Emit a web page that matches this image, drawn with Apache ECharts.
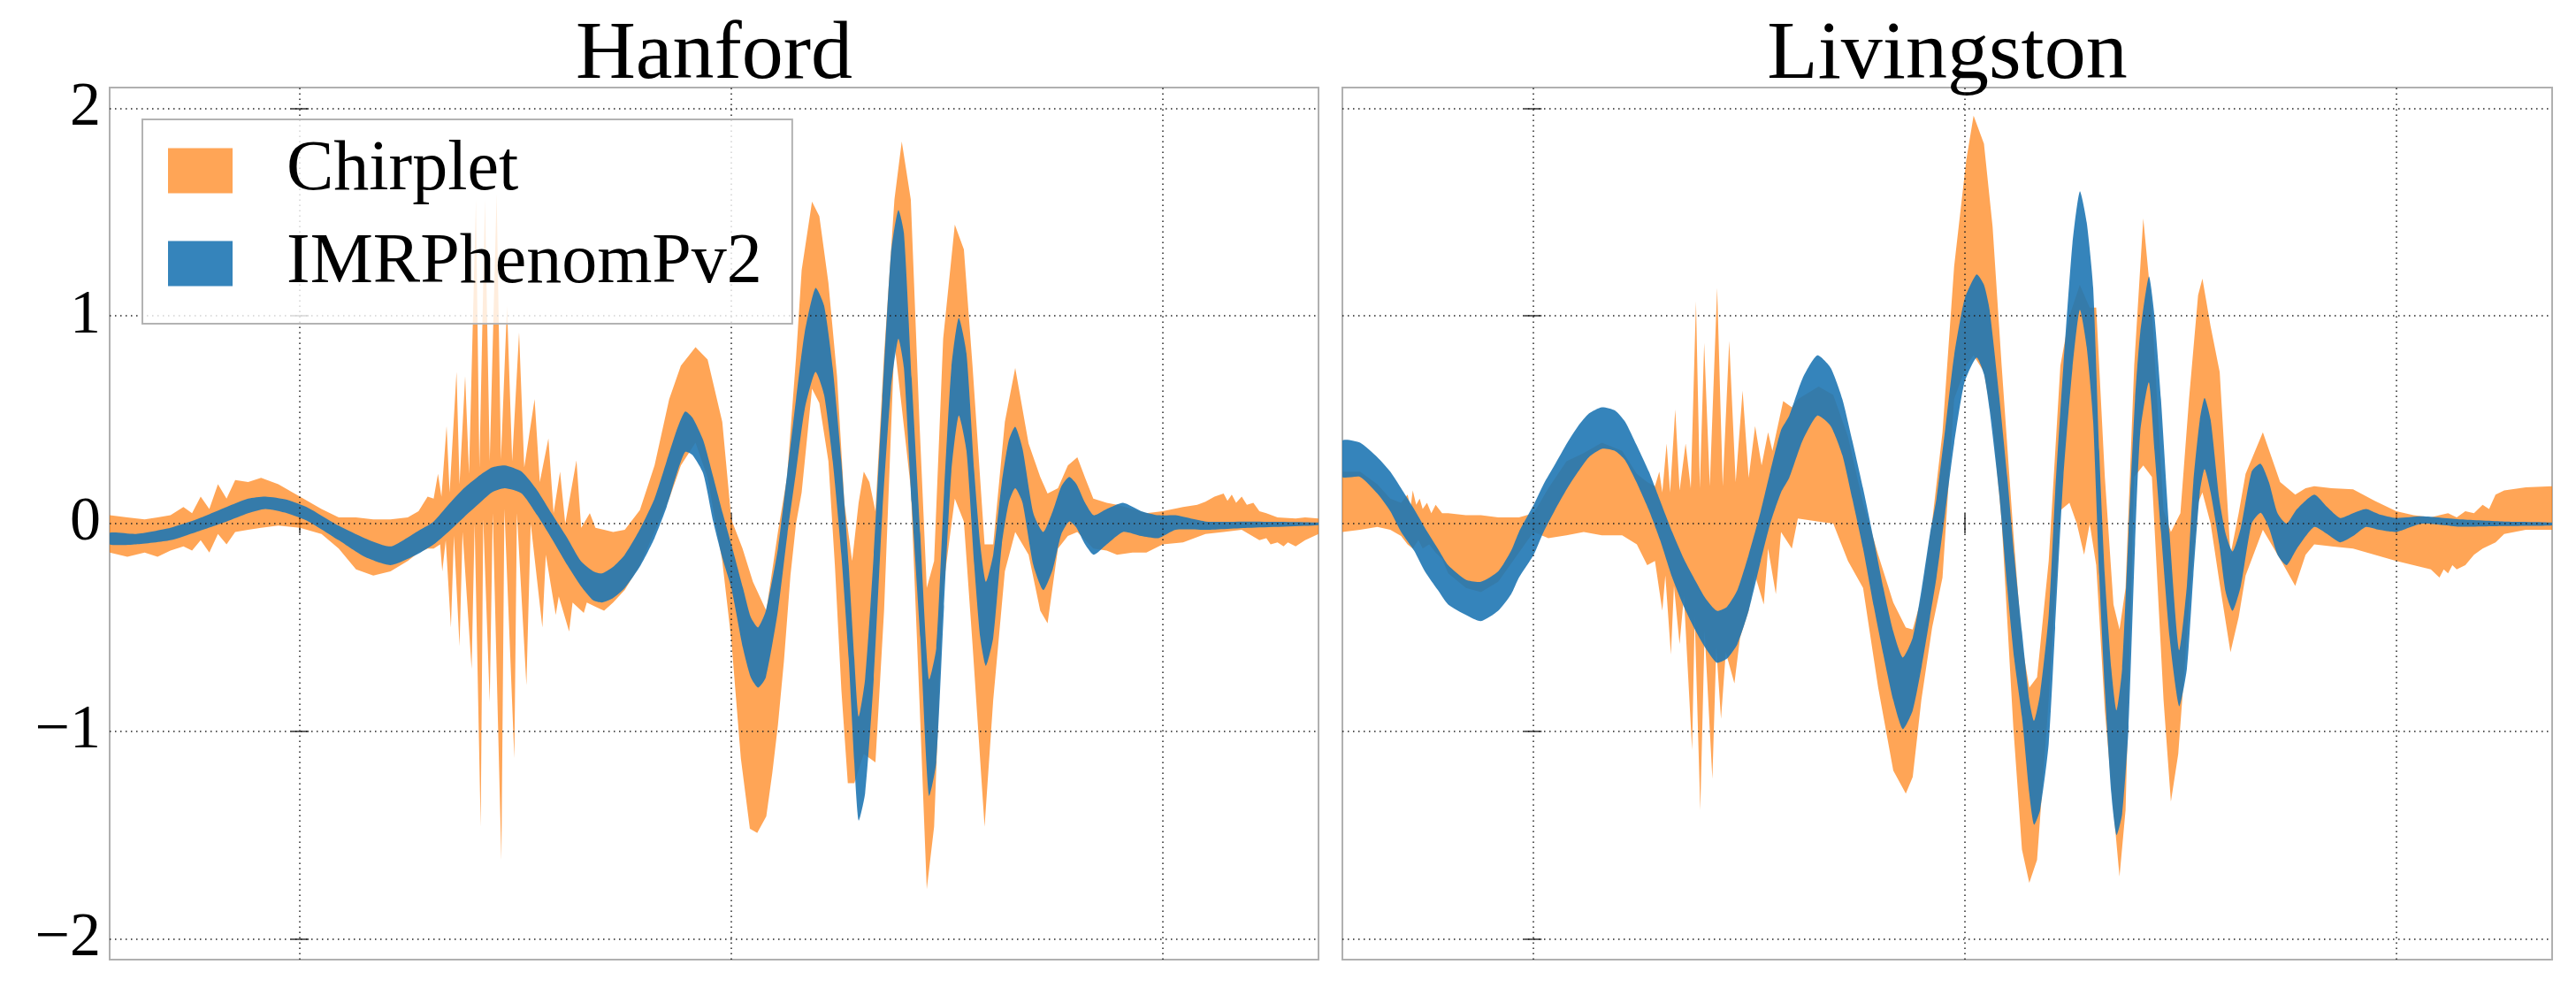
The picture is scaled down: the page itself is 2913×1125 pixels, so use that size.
<!DOCTYPE html>
<html>
<head>
<meta charset="utf-8">
<script src="https://cdn.jsdelivr.net/npm/echarts@6/dist/echarts.min.js"></script>
<style>
html, body { margin: 0; padding: 0; background: #fff; }
#chart { width: 2913px; height: 1125px; }
</style>
</head>
<body>
<div id="chart"></div>
<script>
// x is in grid units: the dotted verticals sit at 0, 1, 2
const xMin = -0.441, xMax = 2.361;
const yMin = -2.1, yMax = 2.1;
const xGridValues = [0, 1, 2];
const yTickValues = [-2, -1, 0, 1, 2];
const yTickLabels = ['−2', '−1', '0', '1', '2'];
const panelTitles = ['Hanford', 'Livingston'];
const seriesNames = ['Chirplet', 'IMRPhenomPv2'];

// Hanford, Chirplet band: upper and lower edges [x, y]
const hanChirpUpper = [
  [-0.441,0.04],[-0.40,0.03],[-0.36,0.02],[-0.33,0.03],[-0.30,0.04],[-0.27,0.08],[-0.25,0.05],[-0.23,0.13],
  [-0.21,0.07],[-0.19,0.19],[-0.17,0.12],[-0.15,0.21],[-0.12,0.20],[-0.09,0.22],[-0.05,0.19],[0.0,0.13],
  [0.05,0.07],[0.09,0.03],[0.13,0.03],[0.17,0.02],[0.21,0.02],[0.25,0.03],[0.275,0.06],[0.296,0.13],
  [0.31,0.12],[0.32,0.24],[0.328,0.13],[0.34,0.47],[0.347,0.15],[0.363,0.73],[0.37,0.19],[0.383,0.71],
  [0.392,0.24],[0.408,1.56],[0.416,0.27],[0.429,1.56],[0.44,0.30],[0.456,1.59],[0.466,0.31],[0.48,1.05],
  [0.492,0.30],[0.508,0.92],[0.52,0.27],[0.544,0.60],[0.556,0.20],[0.576,0.41],[0.588,0.05],[0.603,0.25],
  [0.615,0.0],[0.641,0.305],[0.652,-0.02],[0.672,0.05],[0.685,-0.02],[0.705,-0.03],[0.726,-0.04],[0.753,-0.03],
  [0.788,0.065],[0.822,0.28],[0.856,0.60],[0.883,0.76],[0.917,0.85],[0.945,0.79],[0.979,0.49],[1.0,0.02],
  [1.026,-0.12],[1.05,-0.28],[1.081,-0.42],[1.108,-0.04],[1.129,0.22],[1.15,0.80],[1.163,1.22],[1.187,1.55],
  [1.204,1.48],[1.225,1.16],[1.245,0.71],[1.262,0.10],[1.28,-0.18],[1.295,0.10],[1.307,0.25],[1.32,0.20],
  [1.334,0.06],[1.354,0.81],[1.378,1.56],[1.395,1.84],[1.416,1.56],[1.436,0.49],[1.453,-0.31],[1.47,-0.18],
  [1.491,0.89],[1.518,1.44],[1.539,1.32],[1.559,0.76],[1.587,-0.10],[1.607,-0.10],[1.634,0.49],[1.658,0.75],
  [1.689,0.385],[1.716,0.225],[1.733,0.145],[1.757,0.17],[1.78,0.28],[1.802,0.32],[1.82,0.22],[1.839,0.12],
  [1.87,0.10],[1.894,0.09],[1.93,0.07],[1.962,0.05],[2.0,0.06],[2.047,0.08],[2.08,0.09],[2.099,0.105],
  [2.12,0.13],[2.141,0.145],[2.15,0.11],[2.16,0.14],[2.17,0.10],[2.183,0.13],[2.195,0.09],[2.21,0.10],
  [2.224,0.06],[2.24,0.05],[2.266,0.03],[2.308,0.025],[2.33,0.03],[2.361,0.025]
];
const hanChirpLower = [
  [-0.441,-0.14],[-0.40,-0.16],[-0.36,-0.14],[-0.33,-0.16],[-0.30,-0.13],[-0.27,-0.11],[-0.25,-0.13],[-0.23,-0.08],
  [-0.21,-0.14],[-0.19,-0.05],[-0.17,-0.10],[-0.15,-0.04],[-0.12,-0.03],[-0.09,-0.02],[-0.05,-0.01],[0.0,-0.02],
  [0.05,-0.05],[0.09,-0.12],[0.13,-0.22],[0.17,-0.25],[0.21,-0.23],[0.25,-0.18],[0.275,-0.14],[0.296,-0.12],
  [0.31,-0.12],[0.325,-0.10],[0.33,-0.23],[0.338,-0.08],[0.35,-0.50],[0.357,-0.06],[0.37,-0.59],[0.377,-0.04],
  [0.398,-0.70],[0.405,0.0],[0.419,-1.46],[0.425,0.02],[0.44,-0.86],[0.447,0.05],[0.467,-1.62],[0.474,0.07],
  [0.497,-1.13],[0.503,0.05],[0.525,-0.78],[0.535,0.0],[0.562,-0.50],[0.57,-0.15],[0.593,-0.44],[0.60,-0.35],
  [0.624,-0.52],[0.632,-0.38],[0.658,-0.43],[0.665,-0.38],[0.685,-0.40],[0.705,-0.42],[0.726,-0.38],[0.753,-0.32],
  [0.788,-0.20],[0.822,-0.04],[0.856,0.12],[0.883,0.28],[0.917,0.39],[0.945,0.22],[0.979,-0.18],[1.0,-0.56],
  [1.022,-1.13],[1.043,-1.47],[1.06,-1.49],[1.081,-1.41],[1.095,-1.20],[1.108,-0.97],[1.122,-0.66],[1.137,-0.25],
  [1.15,0.0],[1.163,0.15],[1.187,0.65],[1.204,0.58],[1.225,0.30],[1.24,-0.20],[1.255,-0.80],[1.27,-1.25],
  [1.285,-1.25],[1.307,-1.11],[1.334,-1.15],[1.354,-0.42],[1.378,0.87],[1.395,0.56],[1.416,0.17],[1.436,-0.85],
  [1.453,-1.76],[1.47,-1.46],[1.491,-0.31],[1.518,0.12],[1.539,0.01],[1.559,-0.58],[1.587,-1.46],[1.607,-0.85],
  [1.634,-0.23],[1.658,-0.04],[1.689,-0.15],[1.716,-0.42],[1.733,-0.48],[1.757,-0.12],[1.78,-0.06],[1.802,-0.04],
  [1.839,-0.12],[1.87,-0.13],[1.894,-0.15],[1.93,-0.14],[1.962,-0.14],[2.0,-0.10],[2.047,-0.09],[2.099,-0.05],
  [2.141,-0.04],[2.183,-0.03],[2.224,-0.08],[2.24,-0.07],[2.25,-0.10],[2.266,-0.09],[2.28,-0.11],[2.29,-0.09],
  [2.308,-0.11],[2.33,-0.08],[2.361,-0.05]
];
// Hanford, IMRPhenomPv2 band: [x, lower, upper]
const hanImr = [
  [-0.441,-0.10,-0.045],[-0.38,-0.10,-0.05],[-0.30,-0.08,-0.02],[-0.24,-0.04,0.02],[-0.17,0.01,0.08],
  [-0.12,0.05,0.12],[-0.08,0.07,0.13],[-0.03,0.05,0.115],[0.02,0.01,0.075],[0.09,-0.08,-0.01],
  [0.15,-0.16,-0.07],[0.21,-0.20,-0.11],[0.27,-0.15,-0.04],[0.31,-0.10,0.01],[0.344,-0.04,0.09],
  [0.38,0.03,0.17],[0.412,0.09,0.225],[0.445,0.15,0.27],[0.475,0.17,0.28],[0.514,0.145,0.25],
  [0.55,0.04,0.16],[0.583,-0.07,0.05],[0.62,-0.20,-0.07],[0.651,-0.30,-0.18],[0.68,-0.37,-0.23],
  [0.70,-0.38,-0.24],[0.725,-0.36,-0.21],[0.753,-0.31,-0.15],[0.79,-0.20,-0.02],[0.822,-0.07,0.12],
  [0.85,0.08,0.30],[0.875,0.25,0.46],[0.893,0.345,0.54],[0.91,0.33,0.51],[0.935,0.24,0.40],
  [0.958,0.01,0.225],[0.98,-0.17,0.05],[1.0,-0.31,-0.10],[1.027,-0.60,-0.31],[1.045,-0.74,-0.45],
  [1.062,-0.79,-0.50],[1.08,-0.74,-0.42],[1.108,-0.42,-0.12],[1.13,-0.05,0.25],[1.15,0.25,0.60],
  [1.17,0.55,0.92],[1.195,0.73,1.135],[1.215,0.62,1.05],[1.235,0.30,0.75],[1.255,-0.15,0.30],
  [1.272,-0.65,-0.20],[1.285,-1.15,-0.65],[1.295,-1.43,-0.93],[1.31,-1.30,-0.75],[1.33,-0.75,-0.15],
  [1.35,0.05,0.60],[1.37,0.65,1.30],[1.387,0.89,1.51],[1.40,0.75,1.40],[1.418,0.10,0.70],
  [1.438,-0.55,-0.05],[1.458,-1.31,-0.75],[1.475,-1.15,-0.60],[1.493,-0.40,0.15],[1.51,0.25,0.75],
  [1.527,0.52,0.99],[1.545,0.35,0.82],[1.563,-0.20,0.25],[1.577,-0.55,-0.10],[1.59,-0.685,-0.28],
  [1.607,-0.55,-0.15],[1.627,-0.10,0.20],[1.643,0.10,0.40],[1.658,0.17,0.466],[1.675,0.10,0.36],
  [1.70,-0.20,0.05],[1.723,-0.32,-0.04],[1.745,-0.22,0.06],[1.765,-0.05,0.18],[1.783,0.01,0.225],
  [1.80,-0.02,0.19],[1.82,-0.10,0.10],[1.84,-0.15,0.04],[1.87,-0.10,0.07],[1.908,-0.04,0.10],
  [1.95,-0.06,0.06],[1.99,-0.07,0.04],[2.03,-0.03,0.04],[2.10,-0.03,0.01],[2.20,-0.02,0.01],
  [2.361,-0.007,0.005]
];

// Livingston, Chirplet band
const livChirpUpper = [
  [-0.441,0.25],[-0.40,0.25],[-0.36,0.19],[-0.33,0.12],[-0.305,0.10],[-0.29,0.14],[-0.283,0.08],[-0.278,0.16],
  [-0.27,0.09],[-0.262,0.12],[-0.255,0.07],[-0.245,0.10],[-0.235,0.05],[-0.225,0.09],[-0.21,0.05],[-0.196,0.05],
  [-0.155,0.04],[-0.12,0.04],[-0.08,0.03],[-0.032,0.03],[0.002,0.05],[0.036,0.17],[0.078,0.30],[0.118,0.34],
  [0.16,0.39],[0.207,0.35],[0.241,0.24],[0.265,0.20],[0.283,0.18],[0.293,0.25],[0.30,0.15],[0.31,0.385],
  [0.318,0.15],[0.33,0.55],[0.34,0.16],[0.354,0.385],[0.366,0.17],[0.378,1.07],[0.387,0.17],[0.397,0.87],
  [0.41,0.18],[0.427,1.135],[0.44,0.18],[0.455,0.88],[0.47,0.20],[0.486,0.64],[0.50,0.22],[0.515,0.47],
  [0.53,0.28],[0.545,0.44],[0.555,0.35],[0.58,0.59],[0.60,0.56],[0.614,0.60],[0.662,0.66],[0.696,0.62],
  [0.73,0.42],[0.765,0.10],[0.80,-0.15],[0.835,-0.38],[0.864,-0.50],[0.88,-0.51],[0.90,-0.36],[0.925,0.01],
  [0.949,0.44],[0.976,1.24],[1.004,1.75],[1.021,1.965],[1.045,1.83],[1.065,1.43],[1.086,0.76],[1.113,-0.04],
  [1.133,-0.58],[1.15,-0.79],[1.168,-0.74],[1.195,-0.18],[1.222,0.76],[1.243,1.0],[1.267,1.15],[1.29,1.04],
  [1.305,1.04],[1.325,0.225],[1.345,-0.39],[1.359,-0.51],[1.373,-0.31],[1.393,0.76],[1.414,1.47],[1.434,1.03],
  [1.461,0.064],[1.478,-0.04],[1.50,0.05],[1.52,0.60],[1.541,1.10],[1.551,1.18],[1.57,0.95],[1.591,0.73],
  [1.616,-0.15],[1.635,0.05],[1.651,0.24],[1.691,0.44],[1.731,0.20],[1.766,0.14],[1.79,0.17],[1.81,0.18],
  [1.85,0.17],[1.9,0.165],[1.95,0.11],[2.0,0.06],[2.04,0.04],[2.08,0.03],[2.10,0.04],[2.12,0.05],
  [2.14,0.03],[2.16,0.06],[2.18,0.05],[2.2,0.09],[2.215,0.07],[2.23,0.14],[2.25,0.16],[2.3,0.175],[2.361,0.18]
];
const livChirpLower = [
  [-0.441,-0.04],[-0.40,-0.03],[-0.36,-0.016],[-0.33,-0.03],[-0.305,-0.06],[-0.29,-0.10],[-0.278,-0.12],[-0.265,-0.08],
  [-0.255,-0.12],[-0.24,-0.10],[-0.225,-0.14],[-0.21,-0.17],[-0.196,-0.24],[-0.155,-0.31],[-0.12,-0.33],[-0.08,-0.28],
  [-0.032,-0.14],[0.002,-0.04],[0.036,-0.07],[0.078,-0.056],[0.118,-0.04],[0.16,-0.056],[0.207,-0.056],[0.241,-0.10],
  [0.265,-0.20],[0.283,-0.18],[0.30,-0.42],[0.307,-0.25],[0.32,-0.63],[0.327,-0.30],[0.34,-0.58],[0.35,-0.35],
  [0.369,-1.09],[0.375,-0.45],[0.388,-1.38],[0.398,-0.52],[0.416,-1.23],[0.425,-0.60],[0.436,-0.94],[0.447,-0.62],
  [0.467,-0.77],[0.48,-0.55],[0.50,-0.42],[0.515,-0.25],[0.535,-0.39],[0.545,-0.12],[0.563,-0.34],[0.575,-0.04],
  [0.60,-0.12],[0.614,0.024],[0.662,0.01],[0.696,0.0],[0.73,-0.18],[0.765,-0.31],[0.80,-0.79],[0.835,-1.19],
  [0.864,-1.30],[0.88,-1.22],[0.90,-0.85],[0.925,-0.50],[0.949,-0.26],[0.976,0.60],[1.004,0.76],[1.021,0.81],
  [1.045,0.73],[1.065,0.49],[1.086,0.01],[1.113,-0.98],[1.133,-1.57],[1.15,-1.73],[1.168,-1.62],[1.195,-0.85],
  [1.222,0.064],[1.243,0.10],[1.26,0.0],[1.277,-0.15],[1.29,0.0],[1.305,-0.20],[1.325,-0.90],[1.345,-1.38],
  [1.359,-1.70],[1.373,-1.38],[1.393,0.225],[1.414,0.28],[1.434,0.225],[1.461,-0.85],[1.478,-1.34],[1.495,-1.11],
  [1.52,-0.40],[1.541,0.10],[1.551,0.15],[1.57,0.0],[1.591,-0.29],[1.616,-0.62],[1.635,-0.45],[1.651,-0.25],
  [1.691,-0.03],[1.731,-0.17],[1.766,-0.30],[1.79,-0.15],[1.81,-0.10],[1.85,-0.11],[1.9,-0.12],[1.95,-0.15],
  [2.0,-0.18],[2.04,-0.20],[2.08,-0.22],[2.10,-0.26],[2.11,-0.22],[2.12,-0.24],[2.13,-0.20],[2.14,-0.22],
  [2.16,-0.20],[2.18,-0.15],[2.2,-0.12],[2.23,-0.09],[2.25,-0.05],[2.3,-0.03],[2.361,-0.03]
];
// Livingston, IMRPhenomPv2 band: [x, lower, upper]
const livImr = [
  [-0.441,0.225,0.40],[-0.40,0.225,0.39],[-0.36,0.145,0.32],[-0.33,0.06,0.25],[-0.305,-0.04,0.17],
  [-0.275,-0.13,0.07],[-0.25,-0.23,-0.02],[-0.22,-0.32,-0.12],[-0.196,-0.39,-0.20],[-0.155,-0.44,-0.27],
  [-0.12,-0.47,-0.28],[-0.08,-0.42,-0.23],[-0.05,-0.34,-0.13],[-0.032,-0.26,-0.04],[0.002,-0.15,0.09],
  [0.025,-0.04,0.19],[0.05,0.06,0.28],[0.08,0.17,0.39],[0.105,0.25,0.47],[0.13,0.32,0.53],
  [0.16,0.36,0.56],[0.19,0.35,0.545],[0.214,0.305,0.49],[0.24,0.20,0.38],[0.269,0.064,0.25],
  [0.295,-0.08,0.11],[0.323,-0.26,-0.04],[0.35,-0.40,-0.17],[0.378,-0.52,-0.28],[0.40,-0.60,-0.36],
  [0.426,-0.67,-0.42],[0.45,-0.65,-0.40],[0.474,-0.58,-0.32],[0.50,-0.42,-0.15],[0.528,-0.18,0.06],
  [0.55,0.0,0.25],[0.575,0.15,0.45],[0.594,0.22,0.52],[0.625,0.40,0.70],[0.659,0.52,0.81],
  [0.69,0.47,0.75],[0.717,0.33,0.60],[0.74,0.12,0.40],[0.765,-0.12,0.17],[0.79,-0.40,-0.08],
  [0.812,-0.63,-0.31],[0.835,-0.85,-0.52],[0.857,-0.99,-0.645],[0.88,-0.90,-0.55],[0.901,-0.685,-0.31],
  [0.92,-0.45,-0.05],[0.935,-0.26,0.12],[0.955,0.05,0.45],[0.976,0.385,0.81],[1.0,0.68,1.08],
  [1.028,0.80,1.20],[1.045,0.72,1.15],[1.058,0.55,1.03],[1.08,0.15,0.62],[1.099,-0.31,0.225],
  [1.115,-0.65,-0.15],[1.133,-0.93,-0.52],[1.15,-1.30,-0.85],[1.161,-1.45,-0.95],[1.175,-1.38,-0.82],
  [1.195,-1.06,-0.44],[1.21,-0.50,0.15],[1.229,0.225,0.76],[1.25,0.75,1.35],[1.267,1.03,1.60],
  [1.283,0.85,1.45],[1.298,0.49,1.135],[1.312,-0.25,0.35],[1.325,-0.80,-0.25],[1.34,-1.30,-0.70],
  [1.352,-1.50,-0.90],[1.365,-1.40,-0.70],[1.38,-0.98,-0.04],[1.395,-0.10,0.60],[1.407,0.44,0.92],
  [1.427,0.68,1.19],[1.44,0.35,1.00],[1.455,-0.04,0.60],[1.475,-0.55,-0.05],[1.497,-0.88,-0.61],
  [1.515,-0.70,-0.30],[1.53,-0.25,0.20],[1.545,0.15,0.50],[1.556,0.263,0.605],[1.57,0.15,0.50],
  [1.59,-0.10,0.12],[1.605,-0.33,-0.05],[1.621,-0.42,-0.134],[1.64,-0.30,-0.02],[1.665,0.0,0.25],
  [1.686,0.052,0.288],[1.705,-0.02,0.20],[1.725,-0.15,0.05],[1.746,-0.20,0.0],[1.77,-0.12,0.07],
  [1.81,-0.016,0.14],[1.84,-0.05,0.08],[1.87,-0.09,0.027],[1.90,-0.06,0.05],[1.93,-0.016,0.07],
  [1.96,-0.03,0.045],[2.0,-0.04,0.027],[2.06,0.0,0.035],[2.15,-0.015,0.02],[2.25,-0.012,0.01],
  [2.361,-0.009,0.005]
];

const chirpColor = 'rgba(255,127,14,0.7)';
const imrColor = 'rgba(31,119,180,0.9)';
const fontFamily = '"Liberation Serif", "Times New Roman", serif';

const panelLeft = [124, 1518];
const panelWidth = [1367, 1368];
const panelTop = 99, panelHeight = 986;

// the whole band is one polygon: upper edge left to right, lower edge back
function bandItem(upper, lower, fill, smooth) {
  return function (params, api) {
    if (params.dataIndex !== 0) return null;
    const pts = upper.map(p => api.coord(p))
      .concat(lower.slice().reverse().map(p => api.coord(p)));
    return { type: 'polygon', shape: { points: pts, smooth: smooth }, style: { fill: fill } };
  };
}

function bandSeries(name, g, upper, lower, fill, smooth) {
  return {
    type: 'custom', name: name,
    xAxisIndex: g * 2, yAxisIndex: g * 2,
    itemStyle: { color: fill },
    renderItem: bandItem(upper, lower, fill, smooth),
    data: upper, encode: { x: 0, y: 1 },
    clip: true, silent: true, z: 2
  };
}

function gridLines(g) {
  return {
    type: 'line', xAxisIndex: g * 2, yAxisIndex: g * 2, data: [], silent: true, z: 3,
    markLine: {
      silent: true, symbol: ['none', 'none'], label: { show: false }, animation: false,
      lineStyle: { color: '#222', width: 1.5, type: [1.5, 4.5] },
      data: xGridValues.map(v => ({ xAxis: v })).concat(yTickValues.map(v => ({ yAxis: v })))
    }
  };
}

const tickStyle = { color: '#333', width: 1.5 };

const xAxes = [], yAxes = [];
[0, 1].forEach(g => {
  ['bottom', 'top'].forEach(pos => xAxes.push({
    gridIndex: g, type: 'value', min: xMin, max: xMax, position: pos,
    axisLine: { show: false }, axisLabel: { show: false }, splitLine: { show: false },
    axisTick: { show: true, inside: true, length: 11, customValues: xGridValues, lineStyle: tickStyle }
  }));
  ['left', 'right'].forEach(pos => yAxes.push({
    gridIndex: g, type: 'value', min: yMin, max: yMax, position: pos,
    axisLine: { show: false }, splitLine: { show: false },
    axisTick: { show: true, inside: true, length: 10, customValues: yTickValues, lineStyle: tickStyle },
    axisLabel: {
      show: g === 0 && pos === 'left', customValues: yTickValues, margin: 10,
      fontFamily: fontFamily, fontSize: 70, color: '#000',
      formatter: v => yTickLabels[yTickValues.indexOf(v)]
    }
  }));
});

const chart = echarts.init(document.getElementById('chart'));
chart.setOption({
  animation: false,
  backgroundColor: '#fff',
  grid: [0, 1].map(g => ({
    left: panelLeft[g], top: panelTop, width: panelWidth[g], height: panelHeight,
    show: true, borderColor: '#b0b0b0', borderWidth: 2, backgroundColor: 'transparent',
    outerBoundsMode: 'none', containLabel: false
  })),
  xAxis: xAxes,
  yAxis: yAxes,
  legend: {
    data: seriesNames, orient: 'vertical', left: 161, top: 135,
    icon: 'rect', itemWidth: 73, itemHeight: 51, itemGap: 25,
    padding: [18, 34, 28, 29],
    backgroundColor: 'rgba(255,255,255,0.8)', borderColor: '#b3b3b3', borderWidth: 2,
    itemStyle: { borderWidth: 0 },
    textStyle: { fontFamily: fontFamily, fontSize: 80, color: '#000', padding: [0, 0, 0, 56] },
    selectedMode: false, z: 10
  },
  graphic: panelTitles.map((t, g) => ({
    type: 'text', x: panelLeft[g] + panelWidth[g] / 2, y: 63,
    style: { text: t, fontFamily: fontFamily, fontSize: 94, fill: '#000', align: 'center', verticalAlign: 'middle' }
  })),
  series: [
    bandSeries(seriesNames[0], 0, hanChirpUpper, hanChirpLower, chirpColor, 0),
    bandSeries(seriesNames[1], 0, hanImr.map(r => [r[0], r[2]]), hanImr.map(r => [r[0], r[1]]), imrColor, 0.2),
    bandSeries(seriesNames[0], 1, livChirpUpper, livChirpLower, chirpColor, 0),
    bandSeries(seriesNames[1], 1, livImr.map(r => [r[0], r[2]]), livImr.map(r => [r[0], r[1]]), imrColor, 0.2),
    gridLines(0),
    gridLines(1)
  ]
});
</script>
</body>
</html>
